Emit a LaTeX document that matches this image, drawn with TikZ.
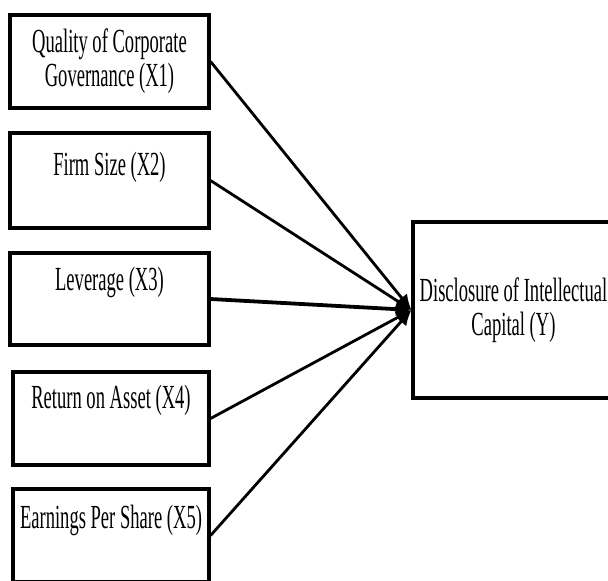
\documentclass[tikz,border=0pt]{standalone}
\usepackage{fontspec}
\setmainfont{Liberation Serif}[FakeStretch=0.55]
\usetikzlibrary{positioning,arrows.meta}

\begin{document}
\begin{tikzpicture}[x=0.025cm, y=-0.025cm]
	\useasboundingbox (0,0) rectangle (608,581);
	\begin{scope}
		\tikzstyle{every node}=[align=center, inner sep=0pt, draw, line width=2.2pt, minimum width=4.975cm, font=\fontsize{24}{24}\selectfont]
		\tikzstyle{link}=[line width=2pt, -{Latex[length=11pt, width=10pt]}]
		\node (qcg) at (109.5, 61.5) [minimum height=2.325cm] {Quality of Corporate\\Governance (X1)};
		\node (size) at (109.5, 180.5) [text height=1.05cm, text depth=1.325cm] {Firm Size (X2)};
		\node (lev) at (109.5, 299) [text height=0.925cm, text depth=1.375cm] {Leverage (X3)};
		\node (roa) at (111, 418.5) [minimum width=4.9cm, text height=0.9cm, text depth=1.425cm] {Return on Asset (X4)};
		\node (eps) at (111, 535.5) [minimum width=4.9cm, text height=0.975cm, text depth=1.35cm] {Earnings Per Share (X5)};

		\node (dic) at (513.5, 310) [minimum width=5.025cm, minimum height=4.4cm] {Disclosure of Intellectual\\Capital (Y)};

		\draw [link] (qcg.east) to (dic.west);
		\draw [link] (size.east) to (dic.west);
		\draw [link, line width=2.7pt] (lev.east) to (dic.west);
		\draw [link] (roa.east) to (dic.west);
		\draw [link] (eps.east) to (dic.west);
	\end{scope}
\end{tikzpicture}
\end{document}
